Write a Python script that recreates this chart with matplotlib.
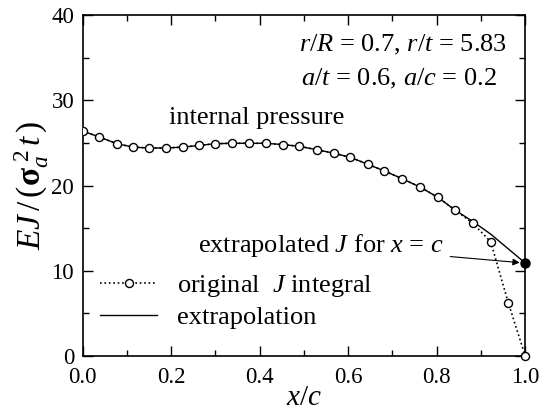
import matplotlib
matplotlib.use("Agg")
import matplotlib.pyplot as plt
from matplotlib.ticker import MultipleLocator

plt.rcParams['font.family'] = ['Liberation Serif', 'DejaVu Serif']
plt.rcParams['mathtext.fontset'] = 'custom'
plt.rcParams['mathtext.rm'] = 'Liberation Serif'
plt.rcParams['mathtext.it'] = 'Liberation Serif:italic'
plt.rcParams['mathtext.bf'] = 'Liberation Serif:bold'

# original J integral along the crack front
x_orig = [0.0, 0.037, 0.078, 0.114, 0.150, 0.188, 0.226, 0.264, 0.299, 0.337,
          0.377, 0.414, 0.452, 0.489, 0.529, 0.567, 0.605, 0.644, 0.682, 0.722,
          0.763, 0.803, 0.842, 0.881, 0.922, 0.962, 1.0]
j_orig = [26.4, 25.7, 24.9, 24.5, 24.4, 24.4, 24.5, 24.7, 24.9, 24.95,
          24.95, 24.95, 24.8, 24.6, 24.2, 23.8, 23.3, 22.5, 21.7, 20.8,
          19.8, 18.6, 17.1, 15.6, 13.4, 6.2, 0.0]

# extrapolated curve
x_ext = x_orig[:23] + [0.881, 0.922, 1.0]
j_ext = j_orig[:23] + [15.8, 14.3, 10.9]

x_end = 1.0
j_end = 10.9

fig = plt.figure(figsize=(5.5, 4.15), dpi=100)
ax = fig.add_axes([0.150, 0.142, 0.805, 0.822])

ax.plot(x_orig, j_orig, ':', color='k', lw=1.2, marker='o', ms=5.8,
        mfc='white', mec='k', mew=1.0, label='original  $J$ integral', zorder=3)
ax.plot(x_ext, j_ext, '-', color='k', lw=1.0, label='extrapolation', zorder=2)
ax.plot([x_end], [j_end], 'o', color='k', ms=6.5, zorder=4, clip_on=False)
# redraw end marker unclipped
ax.plot([x_orig[-1]], [j_orig[-1]], 'o', mfc='white', mec='k', ms=5.8, zorder=5, clip_on=False)

ax.set_xlim(0, 1.0)
ax.set_ylim(0, 40)
ax.xaxis.set_major_locator(MultipleLocator(0.2))
ax.xaxis.set_minor_locator(MultipleLocator(0.1))
ax.yaxis.set_major_locator(MultipleLocator(10))
ax.yaxis.set_minor_locator(MultipleLocator(5))
ax.xaxis.set_major_formatter(plt.FormatStrFormatter('%.1f'))
ax.tick_params(which='both', direction='in', top=True, right=True, labelsize=16.5, width=1.0)
ax.tick_params(which='major', length=7)
ax.tick_params(which='minor', length=4)
ax.tick_params(axis='x', pad=8)
ax.tick_params(axis='y', pad=6)
for s in ax.spines.values():
    s.set_linewidth(1.2)

ax.set_xlabel('$x/c$', fontsize=21, labelpad=-2)
ax.set_ylabel(r'$EJ\,/\,(\mathbf{\sigma}_a^{\ 2}\,t\,)$', fontsize=24, labelpad=0)

ax.text(0.959, 0.912, '$r/R$ = 0.7, $r/t$ = 5.83', transform=ax.transAxes,
        ha='right', va='center', fontsize=19)
ax.text(0.937, 0.812, '$a/t$ = 0.6, $a/c$ = 0.2', transform=ax.transAxes,
        ha='right', va='center', fontsize=19)
ax.text(0.393, 0.698, 'internal pressure', transform=ax.transAxes,
        ha='center', va='center', fontsize=19)

ax.annotate('extrapolated $J$ for $x$ = $c$', xy=(x_end, j_end), xytext=(0.815, 13.0),
            ha='right', va='center', fontsize=19,
            arrowprops=dict(arrowstyle='-|>', color='k', lw=0.8, mutation_scale=10,
                            shrinkA=3, shrinkB=4))

ax.legend(loc='center left', bbox_to_anchor=(0.04, 0.161), frameon=False, fontsize=19,
          handlelength=2.15, handletextpad=0.76, borderaxespad=0, borderpad=0,
          labelspacing=0.25)

fig.savefig('out.png', dpi=100)
